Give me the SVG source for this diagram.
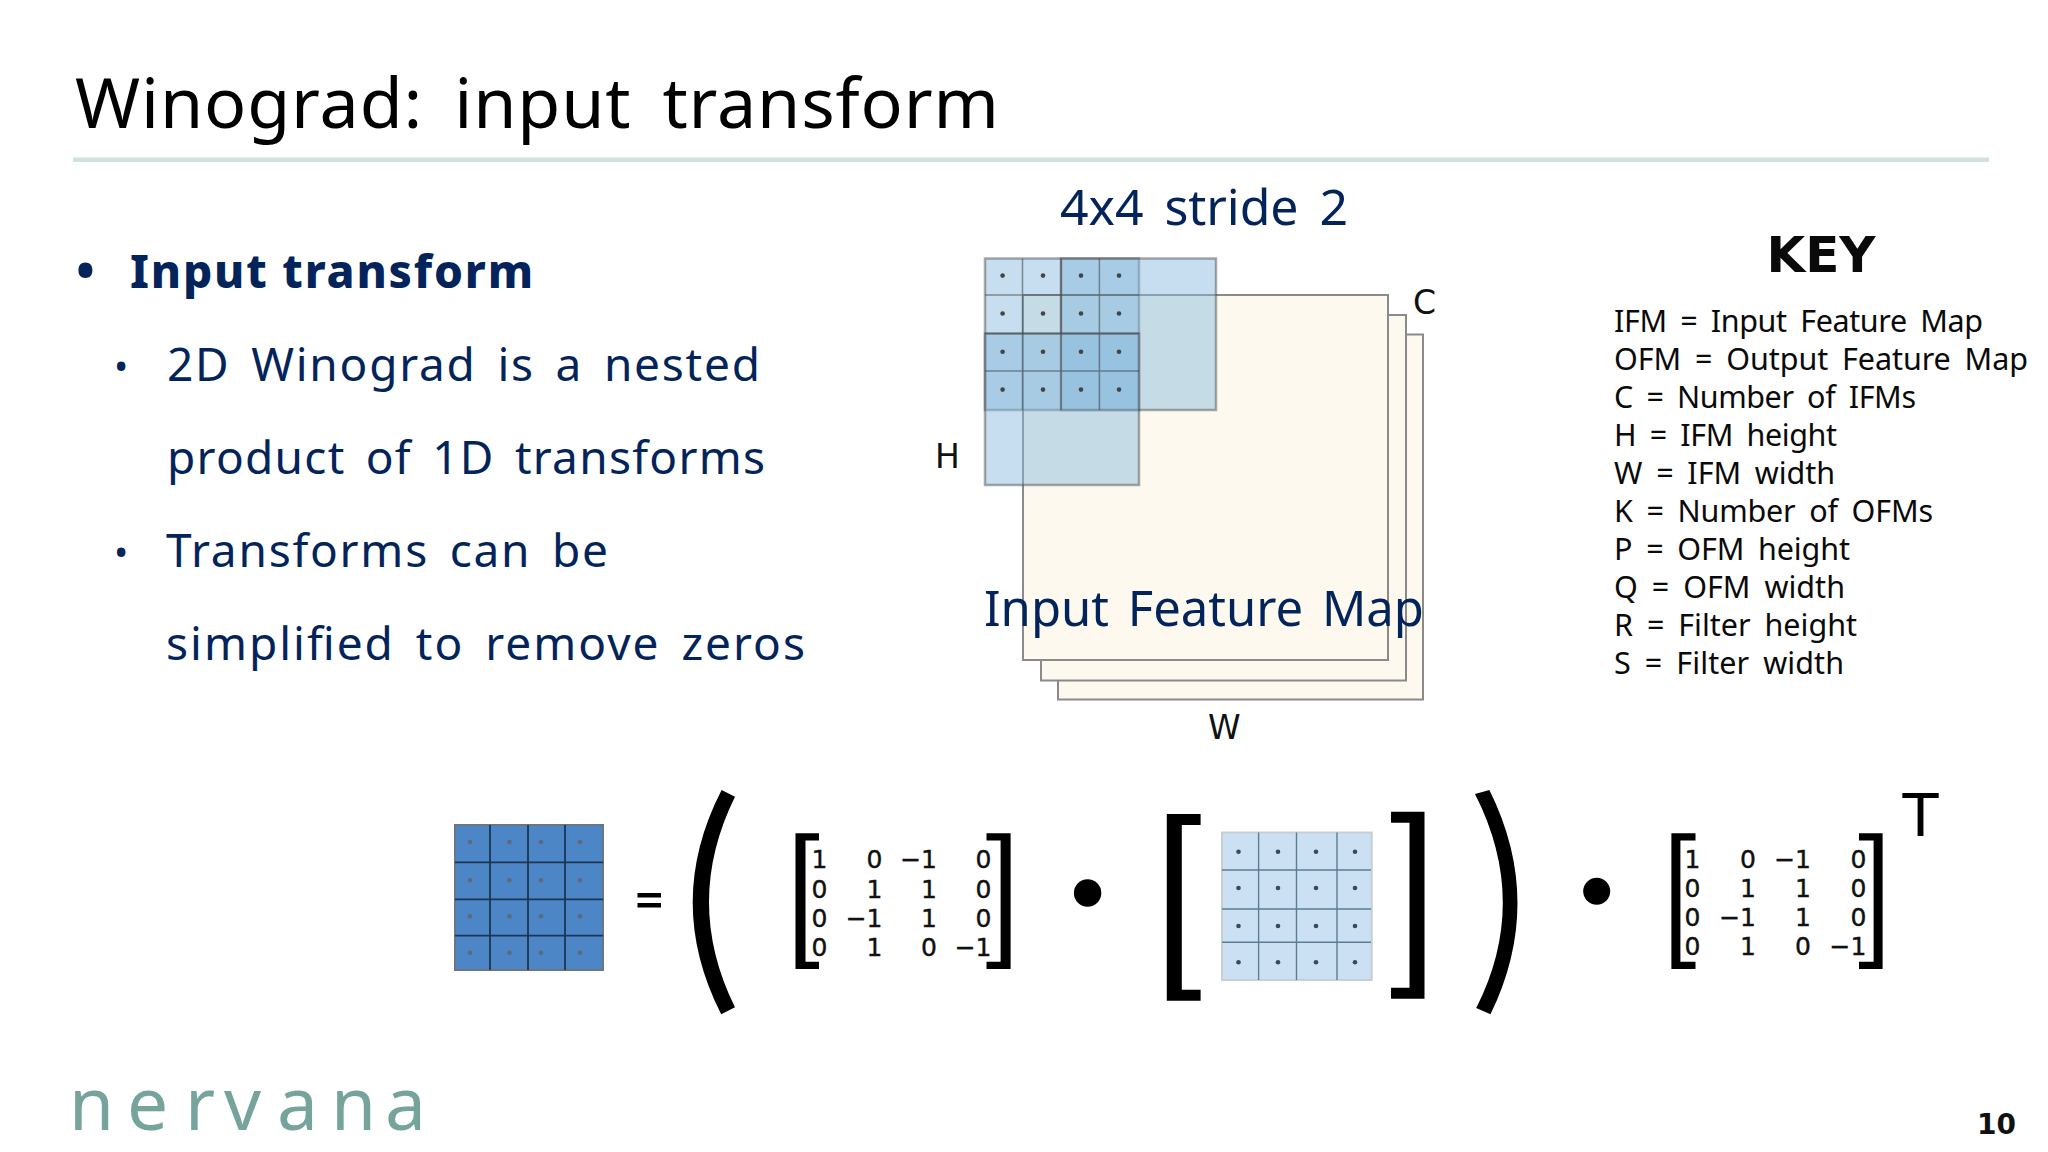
<svg xmlns="http://www.w3.org/2000/svg" width="2048" height="1152" viewBox="0 0 2048 1152">
<style>
text{font-family:"Noto Sans","Open Sans",sans-serif}
.navy{fill:#03245a}
.body{font-size:46px;word-spacing:7px}
.key{font-size:30.5px;fill:#0a0a0a;word-spacing:6px}
.dim{font-family:"DejaVu Sans",sans-serif;font-size:33px;fill:#111}
.num{font-family:"DejaVu Sans",sans-serif;font-size:25px;fill:#111;text-anchor:end;stroke:#111;stroke-width:.4px}
.sheet{fill:#fdf9ee;stroke:#8a8a8a;stroke-width:2}
.win{fill:#86b8dd;fill-opacity:.47;stroke:#444;stroke-opacity:.45;stroke-width:2.5}
.gl{fill:none;stroke:#333;stroke-opacity:.5;stroke-width:1.5}
.dot{fill:#444}
.ink{fill:#000}
</style>
<defs>
<g id="ds"><circle r="2.3"/></g>
</defs>
<rect width="2048" height="1152" fill="#fff"/>
<g id="header">
<text x="75" y="127.500" font-size="70" fill="#000" textLength="924" lengthAdjust="spacing" style="word-spacing:12px">Winograd: input transform</text>
<rect x="73" y="157.500" width="1916" height="4.500" fill="#cfe3dc"/>
</g>
<g id="bullets">
<text class="navy" x="76" y="289" font-size="50" font-weight="700">•</text>
<text class="navy" x="130" y="288" font-size="46" font-weight="800" textLength="403" lengthAdjust="spacing">Input transform</text>
<text class="navy" x="114" y="380" font-size="38">•</text>
<text class="navy body" x="167" y="381" textLength="593" lengthAdjust="spacing">2D Winograd is a nested</text>
<text class="navy body" x="167" y="474" textLength="598" lengthAdjust="spacing">product of 1D transforms</text>
<text class="navy" x="114" y="566" font-size="38">•</text>
<text class="navy body" x="166" y="567" textLength="442" lengthAdjust="spacing">Transforms can be</text>
<text class="navy body" x="166" y="660" textLength="639" lengthAdjust="spacing">simplified to remove zeros</text>
</g>
<g id="feature-map">
<rect class="sheet" x="1058" y="334.500" width="365" height="365"/>
<rect class="sheet" x="1041" y="315" width="365" height="365.500"/>
<rect class="sheet" x="1023" y="295" width="365" height="365"/>
</g>
<g id="filter-windows">
<rect class="win" x="985" y="258.500" width="154" height="151.500"/>
<rect class="win" x="1061" y="258.500" width="155" height="151.500"/>
<rect class="win" x="985" y="333.500" width="154" height="151.500"/>
<path class="gl" d="M1022.500 258.500V410M1061 258.500V410M1099.400 258.500V410M985 295H1139M985 333.500H1139M985 371H1139"/>
<g class="dot">
<use href="#ds" x="1002.600" y="275.600"/><use href="#ds" x="1043" y="275.600"/><use href="#ds" x="1081" y="275.600"/><use href="#ds" x="1119" y="275.600"/>
<use href="#ds" x="1002.600" y="313.500"/><use href="#ds" x="1043" y="313.500"/><use href="#ds" x="1081" y="313.500"/><use href="#ds" x="1119" y="313.500"/>
<use href="#ds" x="1002.600" y="351.700"/><use href="#ds" x="1043" y="351.700"/><use href="#ds" x="1081" y="351.700"/><use href="#ds" x="1119" y="351.700"/>
<use href="#ds" x="1002.600" y="389.600"/><use href="#ds" x="1043" y="389.600"/><use href="#ds" x="1081" y="389.600"/><use href="#ds" x="1119" y="389.600"/>
</g>
</g>
<g id="figure-labels">
<text class="navy" x="1060" y="225" font-size="50" textLength="288" lengthAdjust="spacing" style="word-spacing:8px">4x4 stride 2</text>
<text class="navy" x="984" y="626" font-size="49" textLength="440" lengthAdjust="spacing" style="word-spacing:6px">Input Feature Map</text>
<text class="dim" x="1413" y="313.500">C</text>
<text class="dim" x="935" y="467.500">H</text>
<text class="dim" x="1208" y="738.500">W</text>
</g>
<g id="key">
<text x="1821" y="272" font-size="50" font-weight="700" fill="#0a0a0a" text-anchor="middle" style="font-family:'DejaVu Sans',sans-serif">KEY</text>
<text class="key" x="1614" y="331.500" textLength="369" lengthAdjust="spacing">IFM = Input Feature Map</text>
<text class="key" x="1614" y="370" textLength="414" lengthAdjust="spacing">OFM = Output Feature Map</text>
<text class="key" x="1614" y="408" textLength="302" lengthAdjust="spacing">C = Number of IFMs</text>
<text class="key" x="1614" y="446" textLength="223" lengthAdjust="spacing">H = IFM height</text>
<text class="key" x="1614" y="484" textLength="221" lengthAdjust="spacing">W = IFM width</text>
<text class="key" x="1614" y="522" textLength="319" lengthAdjust="spacing">K = Number of OFMs</text>
<text class="key" x="1614" y="560" textLength="236" lengthAdjust="spacing">P = OFM height</text>
<text class="key" x="1614" y="598" textLength="231" lengthAdjust="spacing">Q = OFM width</text>
<text class="key" x="1614" y="636" textLength="243" lengthAdjust="spacing">R = Filter height</text>
<text class="key" x="1614" y="674" textLength="230" lengthAdjust="spacing">S = Filter width</text>
</g>
<g id="output-matrix">
<rect x="455" y="825" width="148" height="145" fill="#4d86c6" stroke="#6b7680" stroke-width="2"/>
<path d="M490 825V970M528 825V970M565 825V970M455 862.300H603M455 899.300H603M455 935.700H603" fill="none" stroke="#1c3550" stroke-width="1.800"/>
<g fill="#5a6a78">
<use href="#ds" x="470" y="842"/><use href="#ds" x="509.400" y="842"/><use href="#ds" x="541" y="842"/><use href="#ds" x="580" y="842"/>
<use href="#ds" x="470" y="880.300"/><use href="#ds" x="509.400" y="880.300"/><use href="#ds" x="541" y="880.300"/><use href="#ds" x="580" y="880.300"/>
<use href="#ds" x="470" y="916.300"/><use href="#ds" x="509.400" y="916.300"/><use href="#ds" x="541" y="916.300"/><use href="#ds" x="580" y="916.300"/>
<use href="#ds" x="470" y="952.700"/><use href="#ds" x="509.400" y="952.700"/><use href="#ds" x="541" y="952.700"/><use href="#ds" x="580" y="952.700"/>
</g>
</g>
<g id="equals">
<rect class="ink" x="637.500" y="893" width="23.500" height="4.500"/>
<rect class="ink" x="637.500" y="903" width="23.500" height="4.500"/>
</g>
<g id="parens">
<path class="ink" d="M721.600 790L735 796.700Q683 902 735 1007.300L721.200 1014.300Q664 902 721.600 790Z"/>
<path class="ink" d="M1489.400 790L1475 794Q1530 902 1476.200 1008L1490.500 1014.300Q1545 902 1489.400 790Z"/>
</g>
<g id="matrix-a">
<path class="ink" d="M819 833.300H795.500V969H819V961.700H805.500V840.600H819ZM986.500 833.300H1010.600V969H986.500V961.700H1000.600V840.600H986.500Z"/>
<text class="num" x="827.500" y="868.300">1</text><text class="num" x="882.500" y="868.300">0</text><text class="num" x="937" y="868.300">−1</text><text class="num" x="991.500" y="868.300">0</text>
<text class="num" x="827.500" y="898.300">0</text><text class="num" x="882.500" y="898.300">1</text><text class="num" x="937" y="898.300">1</text><text class="num" x="991.500" y="898.300">0</text>
<text class="num" x="827.500" y="927.300">0</text><text class="num" x="882.500" y="927.300">−1</text><text class="num" x="937" y="927.300">1</text><text class="num" x="991.500" y="927.300">0</text>
<text class="num" x="827.500" y="956">0</text><text class="num" x="882.500" y="956">1</text><text class="num" x="937" y="956">0</text><text class="num" x="991.500" y="956">−1</text>
</g>
<circle id="dot-1" class="ink" cx="1087.600" cy="893" r="13.700"/>
<g id="input-matrix">
<path class="ink" d="M1200.600 814H1166.800V1000.700H1200.600V989.700H1181.800V825H1200.600ZM1391 811.700H1424.500V998.700H1391V987.700H1409.500V822.700H1391Z"/>
<rect x="1222" y="832.500" width="149.700" height="147.500" fill="#cbe1f3" stroke="#c9ced2" stroke-width="2"/>
<path d="M1258.600 832.500V980M1296.500 832.500V980M1337 832.500V980M1222 870H1371M1222 909H1371M1222 942.300H1371" fill="none" stroke="#5c7c94" stroke-width="1.400"/>
<g fill="#3a4a58">
<use href="#ds" x="1238.500" y="851.700"/><use href="#ds" x="1278" y="851.700"/><use href="#ds" x="1316" y="851.700"/><use href="#ds" x="1355" y="851.700"/>
<use href="#ds" x="1238.500" y="888"/><use href="#ds" x="1278" y="888"/><use href="#ds" x="1316" y="888"/><use href="#ds" x="1355" y="888"/>
<use href="#ds" x="1238.500" y="926"/><use href="#ds" x="1278" y="926"/><use href="#ds" x="1316" y="926"/><use href="#ds" x="1355" y="926"/>
<use href="#ds" x="1238.500" y="962.300"/><use href="#ds" x="1278" y="962.300"/><use href="#ds" x="1316" y="962.300"/><use href="#ds" x="1355" y="962.300"/>
</g>
</g>
<circle id="dot-2" class="ink" cx="1596.700" cy="891.300" r="13.500"/>
<g id="matrix-b">
<path class="ink" d="M1695.500 833.300H1671.400V969H1695.500V961.700H1680.400V840.600H1695.500ZM1859 833.300H1882.600V969H1859V961.700H1873.600V840.600H1859Z"/>
<text class="num" x="1700.500" y="867.700">1</text><text class="num" x="1756" y="867.700">0</text><text class="num" x="1811" y="867.700">−1</text><text class="num" x="1866.300" y="867.700">0</text>
<text class="num" x="1700.500" y="897">0</text><text class="num" x="1756" y="897">1</text><text class="num" x="1811" y="897">1</text><text class="num" x="1866.300" y="897">0</text>
<text class="num" x="1700.500" y="926">0</text><text class="num" x="1756" y="926">−1</text><text class="num" x="1811" y="926">1</text><text class="num" x="1866.300" y="926">0</text>
<text class="num" x="1700.500" y="955.300">0</text><text class="num" x="1756" y="955.300">1</text><text class="num" x="1811" y="955.300">0</text><text class="num" x="1866.300" y="955.300">−1</text>
<text x="1920.500" y="836" font-size="59" fill="#000" text-anchor="middle" style="font-family:'DejaVu Sans',sans-serif">T</text>
</g>
<g id="footer">
<text x="69 127 185 224 277 331 385" y="1130" font-size="73" fill="#76a39b">nervana</text>
<text x="1977" y="1134" font-size="28" font-weight="700" fill="#111" style="font-family:'DejaVu Sans',sans-serif">10</text>
</g>
</svg>
